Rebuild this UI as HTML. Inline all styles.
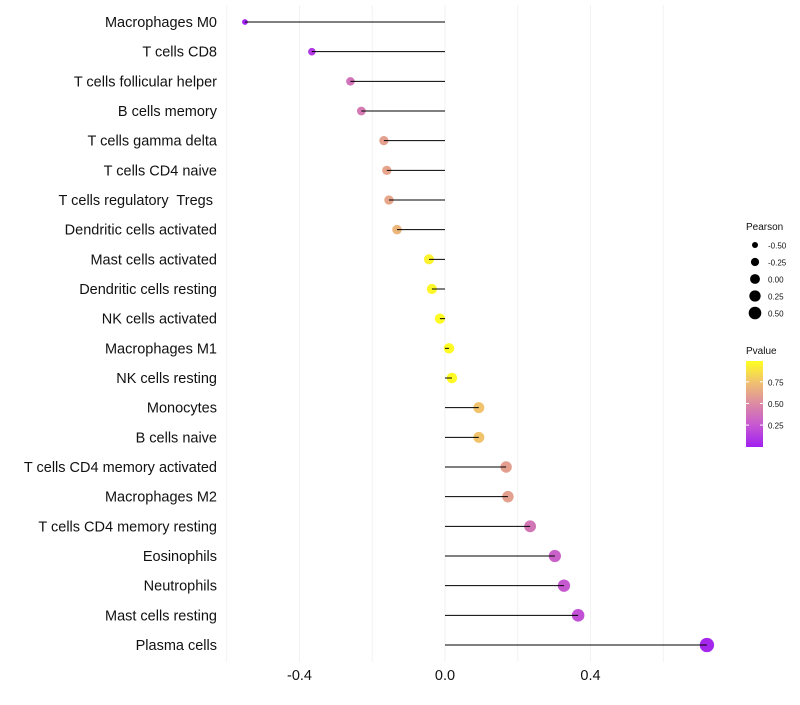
<!DOCTYPE html>
<html><head><meta charset="utf-8"><style>
body{margin:0;background:#fff;font-family:"Liberation Sans",sans-serif}
text{white-space:pre}
</style></head><body>
<svg id="chart" width="800" height="700" xmlns="http://www.w3.org/2000/svg" font-family="Liberation Sans, sans-serif">
<defs><linearGradient id="pg" x1="0" y1="1" x2="0" y2="0">
<stop offset="0" stop-color="#a020f0"/><stop offset="0.25" stop-color="#c657d2"/><stop offset="0.5" stop-color="#dc8aa4"/><stop offset="0.75" stop-color="#f0c070"/><stop offset="1" stop-color="#ffff20"/></linearGradient></defs>
<g id="grid"></g>
<g id="marks"></g>
<g id="ylab"></g>
<g id="xlab"></g>
<g id="legend"></g>
</svg>
<script>
const categories=["Macrophages M0","T cells CD8","T cells follicular helper","B cells memory","T cells gamma delta","T cells CD4 naive","T cells regulatory  Tregs ","Dendritic cells activated","Mast cells activated","Dendritic cells resting","NK cells activated","Macrophages M1","NK cells resting","Monocytes","B cells naive","T cells CD4 memory activated","Macrophages M2","T cells CD4 memory resting","Eosinophils","Neutrophils","Mast cells resting","Plasma cells"];
const pearson=[-0.55,-0.366,-0.26,-0.23,-0.168,-0.16,-0.154,-0.132,-0.044,-0.036,-0.014,0.011,0.019,0.093,0.093,0.168,0.173,0.234,0.302,0.327,0.366,0.72];
const pvalue=[0.01,0.12,0.38,0.42,0.6,0.62,0.63,0.7,0.95,0.97,0.99,0.99,0.98,0.76,0.76,0.6,0.6,0.4,0.3,0.26,0.22,0.03];
const xTicks=[-0.4,0,0.4];
const xTickLabels=["-0.4","0.0","0.4"];
const gridVals=[-0.6,-0.4,-0.2,0,0.2,0.4,0.6];
const sizeLegend=[-0.5,-0.25,0,0.25,0.5];
const sizeLegendLabels=["-0.50","-0.25","0.00","0.25","0.50"];
const colorLegend=[0.25,0.5,0.75];
const colorLegendLabels=["0.25","0.50","0.75"];
const NS="http://www.w3.org/2000/svg";
const X=v=>445+v*363.75;
const Y=i=>22+i*(623/21);
const R=v=>Math.sqrt(Math.max(4,27+34*v));
function lerp(a,b,t){return a+(b-a)*t}
const stops=[[0,[160,32,240]],[0.25,[198,87,210]],[0.5,[220,138,164]],[0.75,[240,192,112]],[1,[255,255,32]]];
function col(p){for(let i=0;i<stops.length-1;i++){const[a,ca]=stops[i],[b,cb]=stops[i+1];if(p<=b){const t=(p-a)/(b-a);return`rgb(${ca.map((c,k)=>Math.round(lerp(c,cb[k],t))).join(",")})`}}return"rgb(255,255,32)"}
function mk(tag,attrs,parent){const e=document.createElementNS(NS,tag);for(const k in attrs)e.setAttribute(k,attrs[k]);parent.appendChild(e);return e}
const grid=document.getElementById("grid"),marks=document.getElementById("marks"),ylab=document.getElementById("ylab"),xlab=document.getElementById("xlab"),leg=document.getElementById("legend");
gridVals.forEach(g=>{const l=mk("line",{x1:X(g),x2:X(g),y1:5,y2:662,stroke:"#f2f2f2","stroke-width":1},grid);

});
categories.forEach((c,i)=>{
const cy=Y(i);
const pt=mk("circle",{cx:X(pearson[i]),cy:cy,r:R(pearson[i]),fill:col(pvalue[i])},marks);


const ln=mk("line",{x1:X(0),x2:X(pearson[i]),y1:cy,y2:cy,stroke:"#000","stroke-width":1},marks);


const t=mk("text",{x:217,y:cy+5,"text-anchor":"end","font-size":14.5,fill:"#111"},ylab);t.textContent=c;


});
xTicks.forEach((v,i)=>{const t=mk("text",{x:X(v),y:680,"text-anchor":"middle","font-size":14.5,fill:"#111"},xlab);t.textContent=xTickLabels[i];

});
let t=mk("text",{x:746,y:230,"font-size":10,fill:"#111"},leg);t.textContent="Pearson";


sizeLegend.forEach((v,i)=>{const y=245+i*17;
const c=mk("circle",{cx:755,cy:y,r:R(v)*0.95,fill:"#000"},leg);


const l=mk("text",{x:768,y:y+3.5,"font-size":8,fill:"#111"},leg);l.textContent=sizeLegendLabels[i];

});
t=mk("text",{x:746,y:354,"font-size":10,fill:"#111"},leg);t.textContent="Pvalue";


const bar=mk("rect",{x:746,y:361,width:17,height:86,fill:"url(#pg)"},leg);


const CY=p=>445-(p-0.02)/0.97*84;
colorLegend.forEach((v,i)=>{const y=CY(v);
mk("line",{x1:746,x2:749,y1:y,y2:y,stroke:"#fff","stroke-width":1},leg);
mk("line",{x1:760,x2:763,y1:y,y2:y,stroke:"#fff","stroke-width":1},leg);
const l=mk("text",{x:768,y:y+3.5,"font-size":8,fill:"#111"},leg);l.textContent=colorLegendLabels[i];

});
</script>
</body></html>
